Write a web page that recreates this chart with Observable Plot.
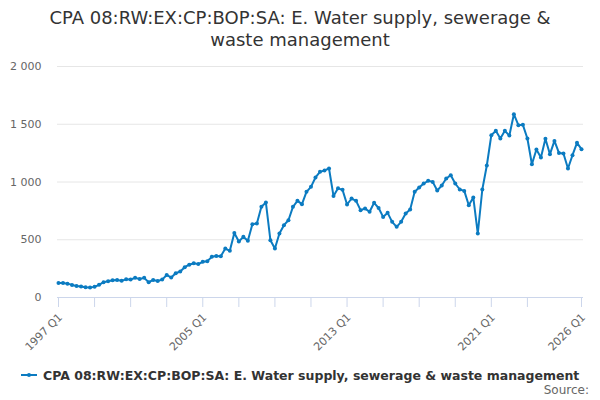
<!DOCTYPE html>
<html>
<head>
<meta charset="utf-8">
<script src="https://cdn.jsdelivr.net/npm/d3@7"></script>
<script src="https://cdn.jsdelivr.net/npm/@observablehq/plot@0.6"></script>
<style>
  html, body { margin: 0; padding: 0; background: #fff; }
  body { width: 600px; height: 400px; position: relative; overflow: hidden; font-family: "DejaVu Sans", sans-serif; }
  #title { position: absolute; left: 0; top: 7px; width: 600px; text-align: center; font-size: 18px; line-height: 22px; color: #333; }
  #chart { position: absolute; left: 0; top: 51px; }
  #legend { position: absolute; left: 21px; top: 366px; height: 18px; display: flex; align-items: center; font-size: 12.5px; font-weight: bold; color: #333; white-space: nowrap; }
  #legend svg { margin-right: 6px; }
  #source { position: absolute; right: 11px; top: 383px; font-size: 12px; line-height: 14px; color: #666; }
</style>
</head>
<body>
<div id="title">CPA 08:RW:EX:CP:BOP:SA: E. Water supply, sewerage &amp;<br>waste management</div>
<div id="chart"></div>
<div id="legend"></div>
<div id="source">Source:</div>
<script>
const seriesName = "CPA 08:RW:EX:CP:BOP:SA: E. Water supply, sewerage & waste management";
const startYear = 1997;
const values = [
  125, 126, 120, 109, 100, 95, 89, 86,
  92, 110, 133, 141, 150, 152, 145, 157,
  156, 170, 161, 170, 132, 152, 143, 155,
  195, 173, 210, 225, 262, 284, 297, 289,
  309, 314, 352, 360, 358, 424, 404, 558,
  485, 525, 492, 635, 641, 785, 822, 496,
  424, 554, 626, 669, 785, 837, 808, 915,
  958, 1039, 1088, 1100, 1117, 878, 945, 932,
  805, 857, 837, 756, 770, 742, 820, 775,
  698, 733, 655, 612, 655, 727, 762, 915,
  952, 987, 1010, 1001, 926, 970, 1030, 1059,
  987, 935, 923, 799, 866, 554, 935, 1143,
  1405, 1443, 1377, 1443, 1403, 1587, 1492, 1495,
  1377, 1154, 1281, 1212, 1374, 1241, 1356, 1252,
  1247, 1117, 1232, 1339, 1284
];
const quarters = values.map((_, i) => `${startYear + Math.floor(i / 4)} Q${(i % 4) + 1}`);
const tickQuarters = ["1997 Q1","1999 Q1","2001 Q1","2003 Q1","2005 Q1","2007 Q1","2009 Q1","2011 Q1","2013 Q1","2015 Q1","2017 Q1","2019 Q1","2021 Q1","2023 Q1","2026 Q1"];
const labelQuarters = ["1997 Q1","2005 Q1","2013 Q1","2021 Q1","2026 Q1"];
const yTicks = [0, 500, 1000, 1500, 2000];
const lineColor = "#0b7bc1";

const data = quarters.map((q, i) => ({q, v: values[i]}));
const fmt = d => d3.format(",")(d).replace(/,/g, " ");

const chart = Plot.plot({
  width: 600,
  height: 310,
  marginTop: 15,
  marginBottom: 64,
  marginLeft: 58,
  marginRight: 19,
  style: {fontFamily: "DejaVu Sans, sans-serif", fontSize: "11px", color: "#666", background: "white", overflow: "visible"},
  x: {type: "point", domain: quarters, padding: 0, axis: null},
  y: {domain: [0, 2000], axis: null},
  marks: [
    Plot.ruleY(yTicks.slice(1), {stroke: "#e6e6e6", insetRight: -2, insetLeft: -1}),
    Plot.ruleY([0], {stroke: "#ccd6eb", insetRight: -2, insetLeft: -1}),
    Plot.axisY({ticks: yTicks, tickSize: 0, tickPadding: 17, tickFormat: fmt, fill: "#666", label: null}),
    Plot.axisX({ticks: tickQuarters, tickSize: 10, tickFormat: () => "", stroke: "#ccd6eb", label: null}),
    Plot.text(labelQuarters, {x: d => d, frameAnchor: "bottom", rotate: -45, textAnchor: "end", lineAnchor: "middle", dx: 2, dy: 18, fill: "#666", fontSize: 11}),
    Plot.line(data, {x: "q", y: "v", stroke: lineColor, strokeWidth: 2}),
    Plot.dot(data, {x: "q", y: "v", r: 2, fill: lineColor})
  ]
});
document.getElementById("chart").appendChild(chart);

document.getElementById("legend").innerHTML =
  `<svg width="16" height="10"><line x1="0" x2="16" y1="5" y2="5" stroke="${lineColor}" stroke-width="2"/><circle cx="8" cy="5" r="2" fill="${lineColor}"/></svg><span></span>`;
document.querySelector("#legend span").textContent = seriesName;
</script>
</body>
</html>
